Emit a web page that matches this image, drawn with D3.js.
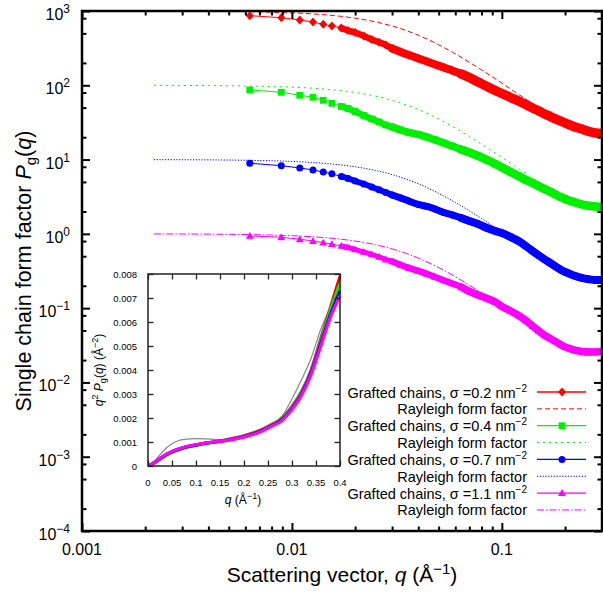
<!DOCTYPE html>
<html><head><meta charset="utf-8">
<script src="https://cdn.jsdelivr.net/npm/d3@7"></script>
<style>body{margin:0;background:#fff} svg{display:block} text{font-family:"Liberation Sans",Arial,sans-serif;fill:#000}</style>
</head><body><svg id="c" width="603" height="592"></svg>
<script>
// ---------------- DATA ----------------
// Measured q grid (Å^-1) for the grafted-chain curves
const qData = [0.0063,0.0089,0.0109,0.0126,0.0141,0.0155,0.0172,0.0185,0.020,0.022,0.024,0.026,0.028,0.030,0.033,0.036,0.040,0.044,0.048,0.053,0.058,0.064,0.070,0.077,0.085,0.093,0.10,0.11,0.12,0.13,0.14,0.15,0.16,0.17,0.18,0.19,0.20,0.22,0.24,0.26,0.28,0.30];
const grafted02 = [865,812,757,711,662,628,590,546,513,461,413,379,349,313,281,256,230,209,191,174,158,142,127,111,96.3,85.1,77.6,68.5,61.5,55.2,49.5,45.1,41.1,38.0,35.2,33.1,31.1,27.9,25.8,23.9,22.8,22.4];
const grafted04 = [86.5,80.5,73.4,69.0,62.8,57.2,51.8,48.7,44.4,39.2,35.2,32.1,29.2,27.5,25.0,23.3,21.8,20.1,18.4,16.7,15.2,13.7,12.5,11.2,9.88,8.73,7.83,6.81,6.02,5.31,4.84,4.37,4.00,3.70,3.39,3.14,2.95,2.69,2.50,2.39,2.34,2.32];
const grafted07 = [8.92,8.28,7.71,7.24,6.81,6.44,5.92,5.57,5.15,4.69,4.28,3.92,3.61,3.34,3.04,2.77,2.49,2.34,2.16,1.94,1.80,1.64,1.49,1.36,1.20,1.094,1.028,0.908,0.802,0.687,0.588,0.512,0.452,0.406,0.364,0.332,0.307,0.275,0.255,0.245,0.240,0.240];
const grafted11 = [0.937,0.900,0.846,0.802,0.761,0.727,0.687,0.656,0.617,0.571,0.528,0.489,0.452,0.425,0.382,0.348,0.317,0.289,0.263,0.236,0.215,0.193,0.168,0.1505,0.135,0.1212,0.1054,0.0917,0.0797,0.0683,0.0576,0.0493,0.0429,0.0391,0.0356,0.0325,0.0300,0.0274,0.0261,0.0257,0.0257,0.0261];

// Rayleigh form factor curves
const qRay = [0.0022,0.003,0.004,0.005,0.006,0.008,0.01,0.0125,0.015,0.0175,0.02,0.025,0.03,0.035,0.04,0.05,0.06,0.07,0.08,0.09,0.1,0.115,0.13,0.15];
const rayleigh02 = [997,995,991,985,979,963,944,914,880,841,800,714,628,546,472,351,265,204,161,130,107,82,65,49];
const rayleigh04 = [99.7,99.5,99.1,98.5,97.9,96.3,94.4,91.4,88.0,84.1,80.0,71.4,62.8,54.6,47.2,35.1,26.5,20.4,16.1,13.0,10.7,8.2,6.5,4.9];
const rayleigh07 = [9.97,9.95,9.91,9.85,9.79,9.63,9.44,9.14,8.80,8.41,8.00,7.14,6.28,5.46,4.72,3.51,2.65,2.04,1.61,1.30,1.07,0.82,0.65,0.49];
const rayleigh11 = [0.997,0.995,0.991,0.985,0.979,0.963,0.944,0.914,0.880,0.841,0.800,0.714,0.628,0.546,0.472,0.351,0.265,0.204,0.161,0.130,0.107,0.082,0.065,0.049];

// Inset: q^2 P_g(q)
const qInset = [0,0.01,0.02,0.03,0.04,0.05,0.06,0.08,0.10,0.12,0.14,0.16,0.18,0.20,0.22,0.24,0.26,0.28,0.30,0.32,0.34,0.36,0.38,0.40];
const inset02 = [0,0.00010,0.00024,0.00038,0.00050,0.00060,0.00068,0.00080,0.00088,0.00095,0.00101,0.00108,0.00116,0.00126,0.00138,0.00154,0.00175,0.00200,0.00248,0.0031,0.0040,0.0053,0.0066,0.0079];
const inset04 = [0,0.00009,0.00022,0.00035,0.00047,0.00057,0.00065,0.00077,0.00086,0.00094,0.00100,0.00107,0.00114,0.00123,0.00135,0.00151,0.00172,0.00197,0.00244,0.00305,0.00395,0.0052,0.0065,0.0076];
const inset07 = [0,0.00010,0.00023,0.00037,0.00049,0.00059,0.00067,0.00079,0.00087,0.00095,0.00100,0.00106,0.00113,0.00122,0.00134,0.00150,0.00170,0.00194,0.00240,0.0030,0.0039,0.0051,0.0063,0.0073];
const inset11 = [0,0.00011,0.00025,0.00039,0.00051,0.00061,0.00069,0.00081,0.00089,0.00096,0.00101,0.00106,0.00112,0.00121,0.00132,0.00148,0.00168,0.00191,0.00236,0.00295,0.00383,0.0050,0.0062,0.0071];
const insetRayleigh = [0,0.00012,0.00035,0.00058,0.00078,0.00093,0.00103,0.00112,0.00114,0.00113,0.00111,0.00110,0.00112,0.00118,0.00133,0.00152,0.00175,0.0021,0.0028,0.0036,0.0045,0.0057,0.0066,0.0072];

// Ticks and labels
const xTickValues = [0.001,0.01,0.1];
const xTickLabels = ["0.001","0.01","0.1"];
const yTickValues = [1e-4,1e-3,1e-2,1e-1,1e0,1e1,1e2,1e3];
const yTickExps = ["\u22124","\u22123","\u22122","\u22121","0","1","2","3"];
const xMinorMult = [2,3,4,5,6,7,8,9];
const yMinorMult = [2,5,8];
const insetXTicks = [0,0.05,0.1,0.15,0.2,0.25,0.3,0.35,0.4];
const insetXLabels = ["0","0.05","0.1","0.15","0.2","0.25","0.3","0.35","0.4"];
const insetYTicks = [0,0.001,0.002,0.003,0.004,0.005,0.006,0.007,0.008];
const insetYLabels = ["0","0.001","0.002","0.003","0.004","0.005","0.006","0.007","0.008"];
const sigmaLabels = ["0.2","0.4","0.7","1.1"];

// ---------------- CHART ----------------
const svg = d3.select("#c");
const L=82,R=602,T=11,B=531;
const x = d3.scaleLog().domain([0.001,0.3]).range([L,R]);
const y = d3.scaleLog().domain([1e-4,1e3]).range([B,T]);

const series = [
  {vals:grafted02, ray:rayleigh02, ins:inset02, color:"#ff0000", marker:"diamond", band:[6.5,8,9.5], dash:"5,3"},
  {vals:grafted04, ray:rayleigh04, ins:inset04, color:"#00ee00", marker:"square", band:[6.5,7.5,8.5], dash:"2,4"},
  {vals:grafted07, ray:rayleigh07, ins:inset07, color:"#0000ff", marker:"circle", band:[6,7,8], dash:"1.2,1.6"},
  {vals:grafted11, ray:rayleigh11, ins:inset11, color:"#ff00ff", marker:"triangle", band:[5,6.5,7.5], dash:"7,2,1.5,2"}
];
const bandStarts = [0.0172,0.03,0.06];

function drawMarker(g, type, cx, cy, color, s) {
  s = s || 1;
  if (type==="diamond") g.append("path").attr("d",`M${cx},${cy-4.5*s}L${cx+4*s},${cy}L${cx},${cy+4.5*s}L${cx-4*s},${cy}Z`).attr("fill",color);
  else if (type==="square") g.append("rect").attr("x",cx-3.4*s).attr("y",cy-3.4*s).attr("width",6.8*s).attr("height",6.8*s).attr("fill",color);
  else if (type==="circle") g.append("circle").attr("cx",cx).attr("cy",cy).attr("r",3.5*s).attr("fill",color);
  else g.append("path").attr("d",`M${cx},${cy-4*s}L${cx+3.9*s},${cy+2.9*s}L${cx-3.9*s},${cy+2.9*s}Z`).attr("fill",color);
}

svg.append("defs").append("clipPath").attr("id","pc").append("rect").attr("x",L).attr("y",T).attr("width",R-L).attr("height",B-T);
const plot = svg.append("g").attr("clip-path","url(#pc)");

// Rayleigh curves
series.forEach(s=>{
  const pts = qRay.map((q,i)=>[x(q),y(s.ray[i])]);
  plot.append("path").attr("d",d3.line().curve(d3.curveMonotoneX)(pts))
    .attr("fill","none").attr("stroke",s.color).attr("stroke-width",1).attr("stroke-dasharray",s.dash);
});
// Grafted-chain curves
series.forEach(s=>{
  const pts = qData.map((q,i)=>[x(q),y(s.vals[i])]);
  const g = plot.append("g");
  g.append("path").attr("d",d3.line()(pts)).attr("fill","none").attr("stroke",s.color).attr("stroke-width",1);
  bandStarts.forEach((q0,k)=>{
    const bandPts = pts.filter((p,i)=>qData[i]>=q0);
    g.append("path").attr("d",d3.line().curve(d3.curveMonotoneX)(bandPts)).attr("fill","none")
      .attr("stroke",s.color).attr("stroke-width",s.band[k]).attr("stroke-linecap","round").attr("stroke-linejoin","round");
  });
  pts.forEach(p=>drawMarker(g,s.marker,p[0],p[1],s.color));
});

// Axes ticks (inside)
function tickAxis(axisFn, scale, vals, size, tx, ty, sw){
  const g = svg.append("g").attr("transform",`translate(${tx},${ty})`)
    .call(axisFn(scale).tickValues(vals).tickSize(-size).tickFormat(""));
  g.select(".domain").remove();
  g.selectAll("line").attr("stroke","#000").attr("stroke-width",sw);
}
const xMinor=[], yMinor=[];
xTickValues.forEach(d=>xMinorMult.forEach(m=>{ if(d*m<=0.3) xMinor.push(d*m); }));
yTickValues.slice(0,-1).forEach(d=>yMinorMult.forEach(m=>yMinor.push(d*m)));
tickAxis(d3.axisBottom,x,xTickValues,8,0,B,2);
tickAxis(d3.axisBottom,x,xMinor,4.5,0,B,2);
tickAxis(d3.axisTop,x,xTickValues,8,0,T,2);
tickAxis(d3.axisTop,x,xMinor,4.5,0,T,2);
tickAxis(d3.axisLeft,y,yTickValues,8,L,0,2);
tickAxis(d3.axisLeft,y,yMinor,4.5,L,0,2);
tickAxis(d3.axisRight,y,yTickValues,8,R,0,2);
tickAxis(d3.axisRight,y,yMinor,4.5,R,0,2);

svg.append("rect").attr("x",L).attr("y",T).attr("width",R-L).attr("height",B-T)
  .attr("fill","none").attr("stroke","#000").attr("stroke-width",2.5);

// Tick labels
xTickValues.forEach((v,i)=>svg.append("text").attr("x",x(v)).attr("y",555).attr("text-anchor","middle")
  .attr("font-size",16).text(xTickLabels[i]));
yTickValues.forEach((v,i)=>{
  const t = svg.append("text").attr("x",70).attr("y",y(v)+9).attr("text-anchor","end").attr("font-size",16);
  t.append("tspan").text("10");
  t.append("tspan").attr("dy",-7).attr("font-size",12).text(yTickExps[i]);
});

// Axis titles
const xt = svg.append("text").attr("x",(L+R)/2).attr("y",582).attr("text-anchor","middle").attr("font-size",21);
xt.append("tspan").text("Scattering vector, ");
xt.append("tspan").attr("font-style","italic").text("q");
xt.append("tspan").text(" (\u00c5");
xt.append("tspan").attr("dy",-8).attr("font-size",15).text("\u22121");
xt.append("tspan").attr("dy",8).text(")");

const yt = svg.append("text").attr("transform",`translate(31,${(T+B)/2}) rotate(-90)`).attr("text-anchor","middle").attr("font-size",21.5);
yt.append("tspan").text("Single chain form factor ");
yt.append("tspan").attr("font-style","italic").text("P");
yt.append("tspan").attr("dy",5).attr("font-size",15).text("g");
yt.append("tspan").attr("dy",-5).text("(");
yt.append("tspan").attr("font-style","italic").text("q");
yt.append("tspan").text(")");

// ---------------- INSET ----------------
const iL=148,iR=340,iT=274,iB=466;
const ix = d3.scaleLinear().domain([0,0.4]).range([iL,iR]);
const iy = d3.scaleLinear().domain([0,0.008]).range([iB,iT]);
svg.append("rect").attr("x",iL).attr("y",iT).attr("width",iR-iL).attr("height",iB-iT).attr("fill","#fff");
svg.append("defs").append("clipPath").attr("id","ic").append("rect").attr("x",iL).attr("y",iT-2).attr("width",iR-iL+1).attr("height",iB-iT+2);
const ip = svg.append("g").attr("clip-path","url(#ic)");
const iline = d3.line().curve(d3.curveMonotoneX);
ip.append("path").attr("d",iline(qInset.map((q,i)=>[ix(q),iy(insetRayleigh[i])])))
  .attr("fill","none").attr("stroke","#888").attr("stroke-width",1.2);
series.forEach(s=>{
  ip.append("path").attr("d",iline(qInset.map((q,i)=>[ix(q),iy(s.ins[i])])))
    .attr("fill","none").attr("stroke",s.color).attr("stroke-width",3.2);
});

function itick(axisFn, scale, vals, tx, ty){
  const g = svg.append("g").attr("transform",`translate(${tx},${ty})`)
    .call(axisFn(scale).tickValues(vals).tickSize(-5.5).tickFormat(""));
  g.select(".domain").remove();
  g.selectAll("line").attr("stroke","#222").attr("stroke-width",1.3);
}
itick(d3.axisBottom,ix,insetXTicks,0,iB);
itick(d3.axisTop,ix,insetXTicks,0,iT);
itick(d3.axisLeft,iy,insetYTicks,iL,0);
itick(d3.axisRight,iy,insetYTicks,iR,0);
svg.append("rect").attr("x",iL).attr("y",iT).attr("width",iR-iL).attr("height",iB-iT)
  .attr("fill","none").attr("stroke","#222").attr("stroke-width",1.5);

insetXTicks.forEach((v,i)=>svg.append("text").attr("x",ix(v)).attr("y",486).attr("text-anchor","middle")
  .attr("font-size",9.5).attr("fill","#222").text(insetXLabels[i]));
insetYTicks.forEach((v,i)=>svg.append("text").attr("x",137).attr("y",iy(v)+3.5).attr("text-anchor","end")
  .attr("font-size",9.5).attr("fill","#222").text(insetYLabels[i]));

const ixt = svg.append("text").attr("x",243).attr("y",504).attr("text-anchor","middle").attr("font-size",12);
ixt.append("tspan").attr("font-style","italic").text("q");
ixt.append("tspan").text(" (\u00c5");
ixt.append("tspan").attr("dy",-5).attr("font-size",9).text("\u22121");
ixt.append("tspan").attr("dy",5).text(")");

const iyt = svg.append("text").attr("transform",`translate(103,${(iT+iB)/2}) rotate(-90)`).attr("text-anchor","middle").attr("font-size",12);
iyt.append("tspan").attr("font-style","italic").text("q");
iyt.append("tspan").attr("dy",-5).attr("font-size",9).text("2");
iyt.append("tspan").attr("dy",5).text(" ");
iyt.append("tspan").attr("font-style","italic").text("P");
iyt.append("tspan").attr("dy",3).attr("font-size",9).text("g");
iyt.append("tspan").attr("dy",-3).text("(");
iyt.append("tspan").attr("font-style","italic").text("q");
iyt.append("tspan").text(")  (\u00c5");
iyt.append("tspan").attr("dy",-5).attr("font-size",9).text("\u22122");
iyt.append("tspan").attr("dy",5).text(")");

// ---------------- LEGEND ----------------
const lg = svg.append("g");
series.forEach((s,i)=>{
  const r1 = 392 + (2*i)*16.85, r2 = r1 + 16.85;
  const t1 = lg.append("text").attr("x",527).attr("y",r1+5.5).attr("text-anchor","end").attr("font-size",14.5);
  t1.append("tspan").text(`Grafted chains, \u03c3 =${sigmaLabels[i]} nm`);
  t1.append("tspan").attr("dy",-6).attr("font-size",10).text("\u22122");
  lg.append("line").attr("x1",537).attr("x2",586).attr("y1",r1).attr("y2",r1).attr("stroke",s.color).attr("stroke-width",1.3);
  drawMarker(lg,s.marker,562,r1,s.color);
  lg.append("text").attr("x",527).attr("y",r2+5.5).attr("text-anchor","end").attr("font-size",14.5).text("Rayleigh form factor");
  lg.append("line").attr("x1",537).attr("x2",586).attr("y1",r2).attr("y2",r2).attr("stroke",s.color).attr("stroke-width",1).attr("stroke-dasharray",s.dash);
});
</script></body></html>
